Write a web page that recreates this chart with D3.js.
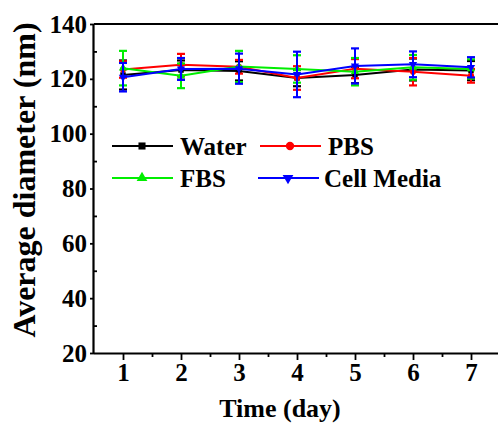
<!DOCTYPE html>
<html>
<head>
<meta charset="utf-8">
<script src="https://d3js.org/d3.v7.min.js"></script>
<style>
  body { margin: 0; background: #fff; }
  text { font-family: "Liberation Serif", "Times New Roman", serif; font-weight: bold; fill: #000; }
</style>
</head>
<body>
<svg id="chart"></svg>
<script>
const WIDTH = 498;
const HEIGHT = 423;

const days = [1, 2, 3, 4, 5, 6, 7];
const yTicks = [20, 40, 60, 80, 100, 120, 140];

const water = [121.4, 123.2, 122.9, 120.3, 121.4, 123.4, 123.0];
const waterErr = [5.3, 3.5, 3.5, 3.0, 3.0, 4.0, 3.5];
const pbs = [123.4, 125.1, 124.4, 120.3, 123.7, 122.6, 121.1];
const pbsErr = [3.0, 4.0, 2.5, 4.3, 3.5, 5.0, 2.5];
const fbs = [123.9, 121.1, 124.5, 123.6, 122.6, 124.2, 123.6];
const fbsErr = [6.3, 4.5, 5.7, 5.0, 5.0, 4.5, 3.5];
const media = [120.6, 123.6, 123.7, 121.6, 124.7, 125.3, 124.2];
const mediaErr = [5.2, 4.0, 5.5, 8.3, 6.4, 4.7, 3.7];

const series = [
  { name: 'Water', values: water, err: waterErr, color: '#000000', marker: 'square' },
  { name: 'PBS', values: pbs, err: pbsErr, color: '#ff0000', marker: 'circle' },
  { name: 'FBS', values: fbs, err: fbsErr, color: '#00ee00', marker: 'triangle' },
  { name: 'Cell Media', values: media, err: mediaErr, color: '#0000ff', marker: 'triangleDown' }
];

const svg = d3.select('#chart').attr('width', WIDTH).attr('height', HEIGHT);

const x = d3.scaleLinear().domain([0.5, 7.5]).range([94, 500]);
const y = d3.scaleLinear().domain([20, 140]).range([353, 24]);

const symbolFor = {
  square: d3.symbolSquare,
  circle: d3.symbolCircle,
  triangle: d3.symbolTriangle,
  triangleDown: d3.symbolTriangle
};

// axes
const xAxis = svg.append('g').attr('transform', `translate(0,${y(20)})`)
  .call(d3.axisBottom(x).tickValues(days).tickFormat(d3.format('d')).tickSize(7).tickPadding(3));
svg.append('g').attr('transform', `translate(0,${y(20)})`)
  .call(d3.axisBottom(x).tickValues(days.map(d => d + 0.5).slice(0, 6)).tickFormat('').tickSize(4))
  .select('.domain').remove();
const yAxis = svg.append('g').attr('transform', `translate(${x(0.5)},0)`)
  .call(d3.axisLeft(y).tickValues(yTicks).tickSize(4).tickPadding(3));
svg.append('g').attr('transform', `translate(${x(0.5)},0)`)
  .call(d3.axisLeft(y).tickValues(yTicks.slice(0, 6).map(v => v + 10)).tickFormat('').tickSize(-3))
  .select('.domain').remove();

svg.selectAll('.domain').attr('stroke', '#000').attr('stroke-width', 2.2);
svg.selectAll('.tick line').attr('stroke', '#000').attr('stroke-width', 1.8);
svg.selectAll('.tick text').style('font-size', '25px').attr('fill', '#000');
xAxis.selectAll('.domain').attr('d', `M${x(0.5)},0.5H${WIDTH}`);
yAxis.selectAll('.domain').attr('d', `M-0.5,${y(140)}V${y(20)}`);

// top border
svg.append('line')
  .attr('x1', x(0.5)).attr('x2', WIDTH)
  .attr('y1', y(140)).attr('y2', y(140))
  .attr('stroke', '#000').attr('stroke-width', 2.2);

// series
const line = d3.line().x((d, i) => x(days[i])).y(d => y(d));

series.forEach(s => {
  const g = svg.append('g');
  g.append('path')
    .datum(s.values)
    .attr('d', line)
    .attr('fill', 'none')
    .attr('stroke', s.color)
    .attr('stroke-width', 2);

  const bars = g.selectAll('.err')
    .data(s.values)
    .enter().append('g');
  bars.append('line')
    .attr('x1', (d, i) => x(days[i])).attr('x2', (d, i) => x(days[i]))
    .attr('y1', (d, i) => y(d + s.err[i])).attr('y2', (d, i) => y(d - s.err[i]))
    .attr('stroke', s.color).attr('stroke-width', 2);
  [1, -1].forEach(sign => {
    bars.append('line')
      .attr('x1', (d, i) => x(days[i]) - 4).attr('x2', (d, i) => x(days[i]) + 4)
      .attr('y1', (d, i) => y(d + sign * s.err[i])).attr('y2', (d, i) => y(d + sign * s.err[i]))
      .attr('stroke', s.color).attr('stroke-width', 2.2);
  });
  g.selectAll('.mark')
    .data(s.values)
    .enter().append('path')
    .attr('d', d3.symbol().type(symbolFor[s.marker]).size(30))
    .attr('transform', (d, i) => `translate(${x(days[i])},${y(d)})${s.marker === 'triangleDown' ? ' rotate(180)' : ''}`)
    .attr('fill', s.color);
});

// legend
const legendPos = [
  { lx: 112, tx: 180, ly: 146 },
  { lx: 260, tx: 328, ly: 146 },
  { lx: 112, tx: 180, ly: 178 },
  { lx: 258, tx: 324, ly: 178 }
];

series.forEach((s, i) => {
  const p = legendPos[i];
  const g = svg.append('g');
  g.append('line')
    .attr('x1', p.lx).attr('x2', p.lx + 61)
    .attr('y1', p.ly).attr('y2', p.ly)
    .attr('stroke', s.color).attr('stroke-width', 2.2);
  g.append('path')
    .attr('d', d3.symbol().type(symbolFor[s.marker]).size(s.marker === 'circle' ? 55 : 50))
    .attr('transform', `translate(${p.lx + 30},${p.ly})${s.marker === 'triangleDown' ? ' rotate(180)' : ''}`)
    .attr('fill', s.color);
  g.append('text')
    .attr('x', p.tx).attr('y', p.ly + 9)
    .style('font-size', '25px')
    .text(s.name);
});

// axis titles
svg.append('text')
  .attr('x', 280).attr('y', 417)
  .attr('text-anchor', 'middle')
  .style('font-size', '26px')
  .text('Time (day)');

svg.append('text')
  .attr('transform', `translate(35,180) rotate(-90)`)
  .attr('text-anchor', 'middle')
  .style('font-size', '32px')
  .text('Average diameter (nm)');
</script>
</body>
</html>
